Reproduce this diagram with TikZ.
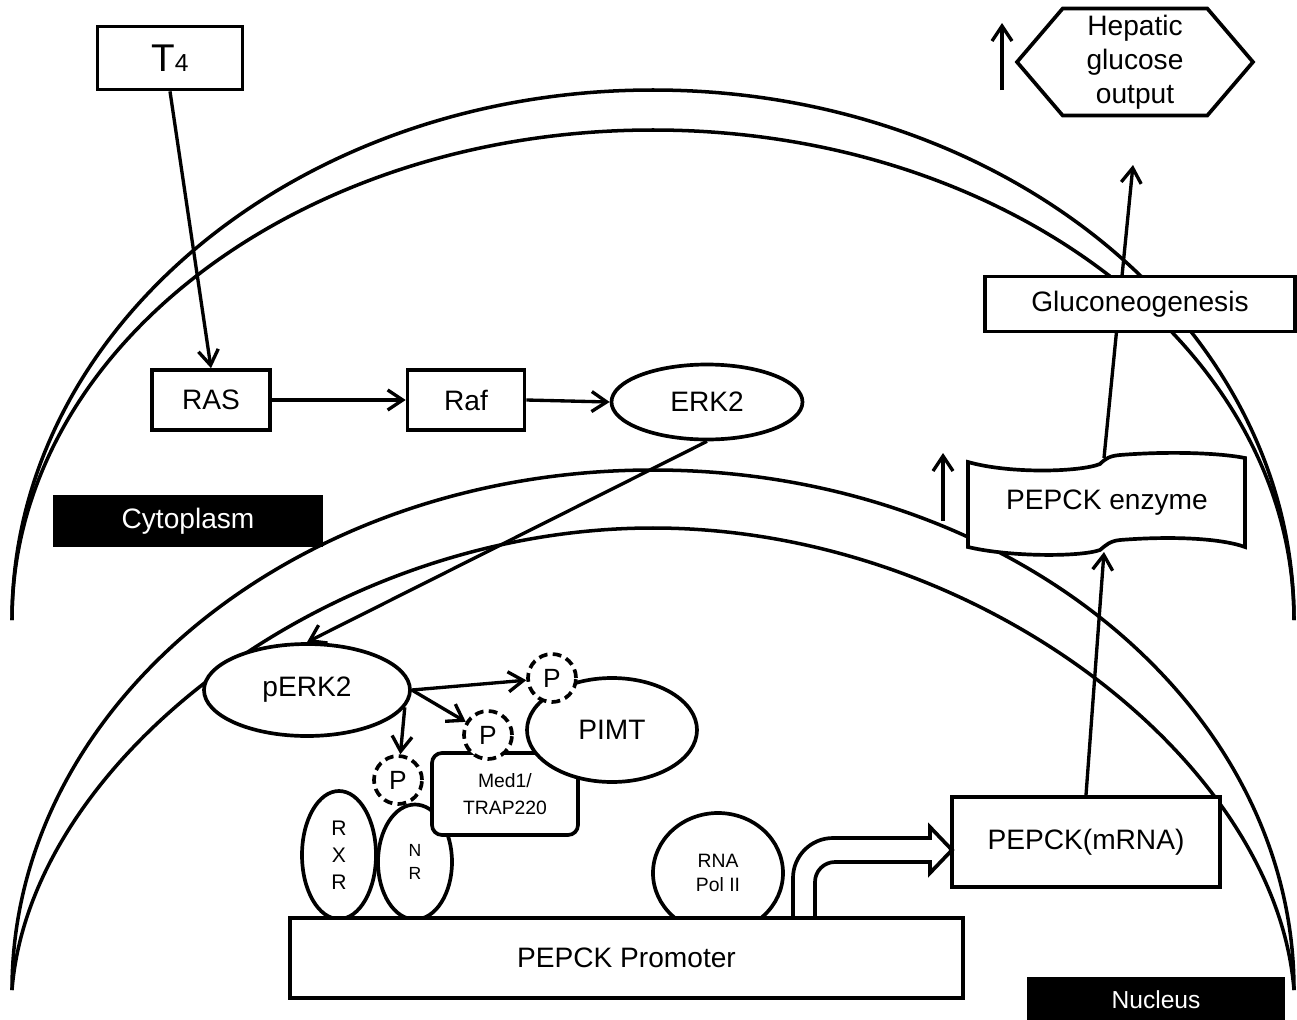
\documentclass[tikz,border=0pt]{standalone}
\usepackage{fontspec}
\setmainfont{Liberation Sans}
\usetikzlibrary{shapes.geometric, shapes.symbols, arrows.meta, positioning, backgrounds, calc}
\pgfdeclarelayer{arrows}
\pgfsetlayers{background,arrows,main}
\tikzset{
  box/.style={rectangle, draw=black, line width=2.1pt, fill=white, inner sep=0pt,
    font=\fontsize{16}{19}\selectfont, align=center},
  oval/.style={ellipse, draw=black, line width=2.1pt, fill=white, inner sep=0pt,
    font=\fontsize{16}{19}\selectfont, align=center},
  phos/.style={circle, draw=black, dash pattern=on 5pt off 3pt, line width=2.1pt, fill=white,
    inner sep=0pt, minimum size=9.6mm, font=\fontsize{15}{17}\selectfont},
  tag/.style={rectangle, fill=black, text=white, inner sep=0pt, font=\fontsize{16}{19}\selectfont},
  memb/.style={line width=2pt},
  ar/.style={-{Straight Barb[length=3mm,width=4mm]}, line width=1.9pt},
  tx/.style={line width=2.1pt, line cap=rect},
}

\begin{document}
\begin{tikzpicture}[x=0.2mm, y=-0.2mm]
\useasboundingbox (0,0) rectangle (1297,1020);

% membranes
\begin{scope}[on background layer]
  \draw[memb] (12,620) .. controls (12,327) and (299,90) .. (653,90) .. controls (1007,90) and (1294,327) .. (1294,620);
  \draw[memb] (12,620) .. controls (12,349) and (299,130) .. (653,130) .. controls (1007,130) and (1294,349) .. (1294,620);
  \draw[memb] (12,990) .. controls (12,703) and (299,470) .. (653,470) .. controls (1007,470) and (1294,703) .. (1294,990);
  \draw[memb] (12,990) .. controls (30,760) and (330,528) .. (653,528) .. controls (976,528) and (1276,760) .. (1294,990);
\end{scope}

% cytoplasm
\node[box, minimum width=29mm, minimum height=12.6mm, font=\fontsize{22}{26}\selectfont] (T4) at (170,58) {T{\fontsize{14}{16}\selectfont 4}};
\node[box, minimum width=23.6mm, minimum height=12mm] (RAS) at (211,400) {RAS};
\node[box, minimum width=23.4mm, minimum height=12mm] (Raf) at (466,400) {Raf};
\node[oval, minimum width=38.2mm, minimum height=15mm] (ERK2) at (707,402) {ERK2};
\node[box, minimum width=62mm, minimum height=11mm] (Gluco) at (1140,304) {Gluconeogenesis};
\node[signal, signal to=east and west, signal pointer angle=99, draw=black, line width=2.1pt, fill=white,
  inner sep=0pt, minimum width=47.2mm, minimum height=21.4mm, align=center,
  font=\fontsize{16}{19.3}\selectfont] (HGO) at (1135,62) {Hepatic\\glucose\\output};
\node[tag, minimum width=54mm, minimum height=10.4mm] (Cyto) at (188,521) {Cytoplasm};
\node[tag, minimum width=51.6mm, minimum height=9.2mm, font=\fontsize{14}{16}\selectfont] (Nuc) at (1156,1000) {Nucleus};

% PEPCK enzyme ribbon
\draw[line width=2.1pt, fill=white] (968,462) .. controls (1010,474) and (1080,472) .. (1100,464)
  .. controls (1106,458) and (1110,456) .. (1120,455) .. controls (1170,451) and (1220,453) .. (1245,458)
  -- (1245,547) .. controls (1220,538) and (1170,536) .. (1120,540)
  .. controls (1110,541) and (1106,545) .. (1100,550) .. controls (1080,557) and (1010,557) .. (968,547) -- cycle;
\node[font=\fontsize{16}{19}\selectfont] (Enz) at (1107,503) {PEPCK enzyme};
\coordinate (EnzT) at (1104,458);
\coordinate (EnzB) at (1104,552);

% nucleus
\node[oval, minimum width=41.2mm, minimum height=18.4mm] (pERK2) at (307,690) {pERK2};
\node[oval, minimum width=14.8mm, minimum height=25.6mm, font=\fontsize{12}{15.5}\selectfont] (RXR) at (339,855) {R\\X\\R};
\node[oval, minimum width=14.8mm, minimum height=23mm, font=\fontsize{10}{13}\selectfont] (NR) at (415,862) {N\\R};
\node[box, rounded corners=2mm, minimum width=29.2mm, minimum height=16.4mm, font=\fontsize{11}{15}\selectfont] (Med1) at (505,794) {Med1/\\TRAP220};
\node[oval, minimum width=34mm, minimum height=20.8mm] (PIMT) at (612,730) {PIMT};
\node[phos] (P1) at (552,678) {P};
\node[phos] (P2) at (488,735) {P};
\node[phos] (P3) at (398,780) {P};
\node[oval, minimum width=26mm, minimum height=24mm, font=\fontsize{11}{14}\selectfont] (RNA) at (718,873) {RNA\\Pol II};
\node[box, minimum width=134.6mm, minimum height=16mm] (Prom) at (626.5,958) {PEPCK Promoter};
\node[box, minimum width=53.6mm, minimum height=18mm] (mRNA) at (1086,842) {PEPCK(mRNA)};

% transcription arrow
\draw[tx, rounded corners=8mm] (793,918) -- (793,838) -- (930,838);
\draw[tx] (930,838) -- (930,827) -- (952,850) -- (930,873) -- (930,862);
\draw[tx, rounded corners=4mm] (930,862) -- (815,862) -- (815,918);

\coordinate (GlcOut) at (1133,165);
\coordinate (upA0) at (1002,90);
\coordinate (upA1) at (1002,23);
\coordinate (upB0) at (943,521);
\coordinate (upB1) at (943,453);

\begin{pgfonlayer}{arrows}
\draw[ar] (T4.south) -- (RAS.north);
\draw[ar] (RAS.east) -- (Raf.west);
\draw[ar] (Raf.east) -- (ERK2.west);
\draw[ar] (ERK2.south) -- (pERK2.north);
\draw[ar] (pERK2.east) -- (P1);
\draw[ar] (pERK2.east) -- (P2);
\draw[ar] (pERK2.-10) -- (P3);
\draw[ar] (mRNA.north) -- (EnzB);
\draw[ar] (EnzT) -- (GlcOut);
\draw[ar] (upA0) -- (upA1);
\draw[ar] (upB0) -- (upB1);
\end{pgfonlayer}

\end{tikzpicture}
\end{document}
